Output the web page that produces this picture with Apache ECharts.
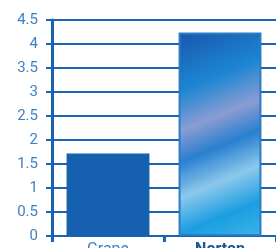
<!DOCTYPE html>
<html>
<head>
<meta charset="utf-8">
<script src="https://cdn.jsdelivr.net/npm/echarts@6/dist/echarts.min.js"></script>
<style>
  html, body { margin: 0; padding: 0; background: #fff; }
  #chart { width: 276px; height: 248px; }
</style>
</head>
<body>
<div id="chart"></div>
<script>
var categories = ["Grape", "Norton"];
var values = [1.72, 4.24];

var chart = echarts.init(document.getElementById("chart"));
var nortonFill = new echarts.graphic.LinearGradient(0, 0, 1, 1, [
  { offset: 0, color: "#1a56ac" },
  { offset: 0.25, color: "#1c86d4" },
  { offset: 0.42, color: "#8a9cd2" },
  { offset: 0.55, color: "#2a7fcf" },
  { offset: 0.7, color: "#8cc8ec" },
  { offset: 0.85, color: "#1b9ee0" },
  { offset: 1, color: "#3db4ea" }
]);

chart.setOption({
  animation: false,
  grid: { left: 52, right: 0, top: 20, bottom: 12, outerBoundsMode: "none", containLabel: false },
  xAxis: {
    type: "category",
    data: categories,
    axisLine: { lineStyle: { color: "#1a62b2", width: 2 } },
    axisTick: { show: true, length: 6, lineStyle: { color: "#1a62b2", width: 3 } },
    axisLabel: {
      margin: 6,
      fontFamily: "Roboto",
      fontSize: 16,
      color: "#3d80c4",
      formatter: function (v) {
        return v === "Norton" ? "{b|" + v + "}" : v;
      },
      rich: { b: { fontWeight: "bold", color: "#1a55a0", fontSize: 16, fontFamily: "Roboto" } }
    }
  },
  yAxis: {
    type: "value",
    min: 0,
    max: 4.5,
    interval: 0.5,
    axisLine: { show: true, lineStyle: { color: "#1a62b2", width: 3 } },
    axisTick: { show: true, length: 6, lineStyle: { color: "#1a62b2", width: 2 } },
    splitLine: { lineStyle: { color: "#1a62b2", width: 2 } },
    axisLabel: { margin: 14, fontFamily: "Roboto", fontSize: 15, color: "#3d80c4" }
  },
  series: [{
    type: "bar",
    barWidth: "74%",
    data: [
      { value: values[0], itemStyle: { color: "#1660b0" } },
      { value: values[1], itemStyle: { color: nortonFill, borderColor: "#2a7cc8", borderWidth: 2 } }
    ]
  }]
});
</script>
</body>
</html>
